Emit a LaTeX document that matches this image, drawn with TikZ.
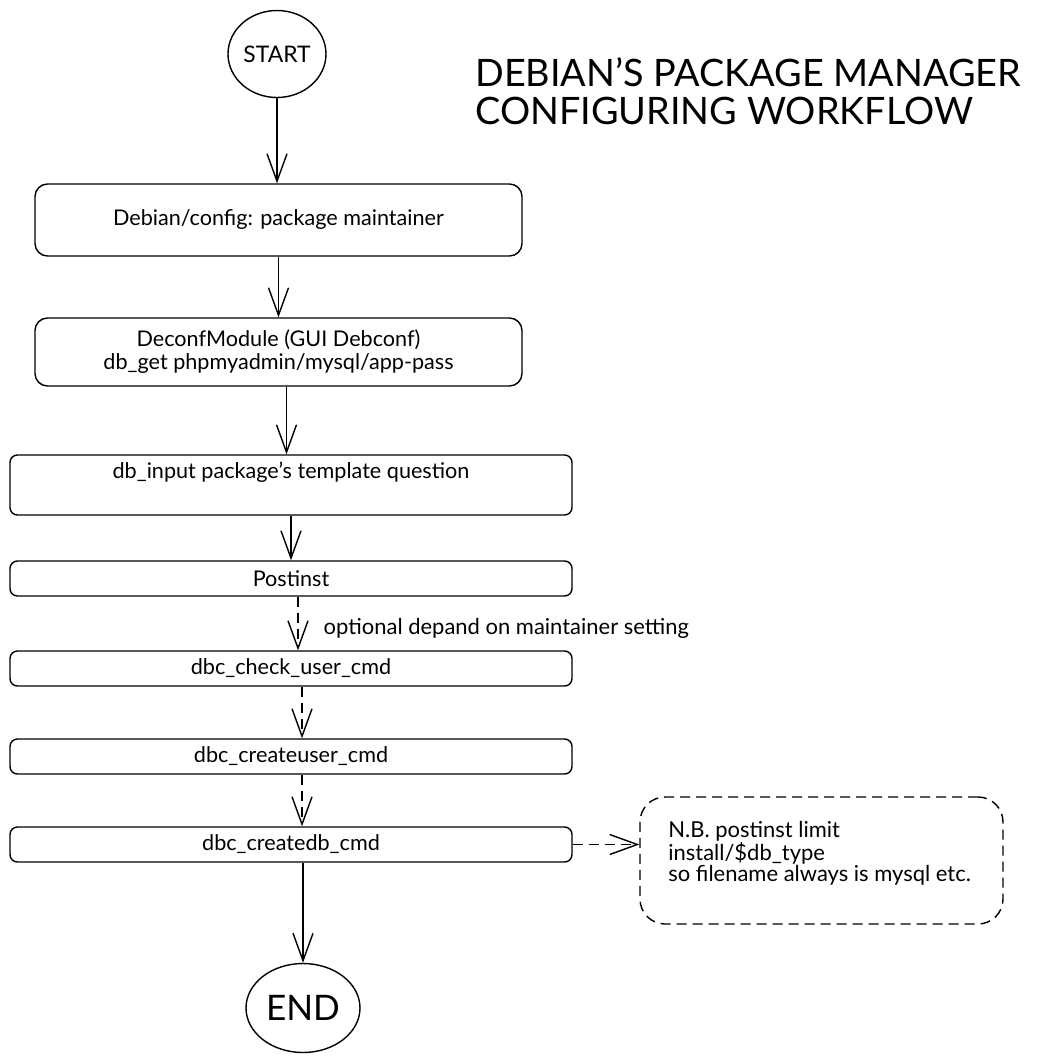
\documentclass[tikz,border=0pt]{standalone}
\usepackage{fontspec}
\setmainfont{Lato}
\usetikzlibrary{arrows.meta,shapes.geometric}
\tikzset{
    terminal/.style={ellipse,draw,line width=0.8pt,inner sep=0pt},
    block/.style={rectangle,draw,rounded corners=0.25cm,line width=0.8pt,minimum width=9.74cm,align=center,font=\fontsize{12.3}{13}\selectfont},
    wideblock/.style={block,rounded corners=0.15cm,minimum width=11.24cm,minimum height=0.7cm},
    note/.style={rectangle,draw,dash pattern=on 0.2cm off 0.12cm,rounded corners=0.5cm,line width=0.8pt,minimum width=7.26cm,minimum height=2.54cm},
    edge/.style={-{Straight Barb[length=0.55cm,width=0.4cm]},line width=0.8pt},
    dashededge/.style={edge,dash pattern=on 0.2cm off 0.12cm}
}
\begin{document}
\begin{tikzpicture}[scale=1]
\useasboundingbox (0,0) rectangle (20.82,-21.24);
\node[terminal,minimum width=1.96cm,minimum height=1.74cm,font=\fontsize{13}{14}\selectfont] (1) at (5.54,-1.08) {START};
\node[block,minimum height=1.44cm] (2) at (5.57,-4.40) {Debian/config: package maintainer};
\node[block,minimum height=1.36cm] (3) at (5.57,-7.04) {DeconfModule (GUI Debconf)\\db\_get phpmyadmin/mysql/app-pass};
\node[wideblock,minimum height=1.2cm] (4) at (5.82,-9.70) {db\_input package's template question\\ \strut};
\node[wideblock] (5) at (5.82,-11.57) {Postinst};
\node[wideblock] (6) at (5.82,-13.37) {dbc\_check\_user\_cmd};
\node[wideblock] (7) at (5.82,-15.13) {dbc\_createuser\_cmd};
\node[wideblock] (8) at (5.82,-16.89) {dbc\_createdb\_cmd};
\node[note] (9) at (16.43,-17.21) {};
\node[anchor=west,inner sep=0pt,align=left,font=\fontsize{12.5}{11.6}\selectfont] (10) at (13.36,-17.06) {N.B. postinst limit\\install/\$db\_type\\so filename always is mysql etc.};
\node[terminal,minimum width=2.28cm,minimum height=1.78cm,font=\fontsize{20}{22}\selectfont] (11) at (6.06,-20.16) {END};
\node[anchor=west,inner sep=0pt,align=left,font=\fontsize{21.5}{21.5}\selectfont] (12) at (9.5,-1.82) {DEBIAN'S PACKAGE MANAGER\\CONFIGURING WORKFLOW};

\draw[edge] (1) -- (1 |- 2.north);
\draw[edge] (2.south) -- (2.south |- 3.north);
\draw[edge] ([xshift=0.16cm]3.south) -- ([xshift=0.16cm]3.south |- 4.north);
\draw[edge] (4.south) -- (5.north);
\draw[dashededge] ([xshift=0.14cm]5.south) -- ([xshift=0.14cm]6.north) node[midway,right=0.5cm,yshift=-0.1cm,inner sep=0pt,font=\fontsize{12.5}{13}\selectfont] (13) {optional depand on maintainer setting};
\draw[dashededge] ([xshift=0.22cm]6.south) -- ([xshift=0.22cm]7.north);
\draw[dashededge] ([xshift=0.22cm]7.south) -- ([xshift=0.22cm]8.north);
\draw[dashededge] (8.east) -- (8.east -| 9.west);
\draw[edge] (11 |- 8.south) -- (11);

\end{tikzpicture}
\end{document}
